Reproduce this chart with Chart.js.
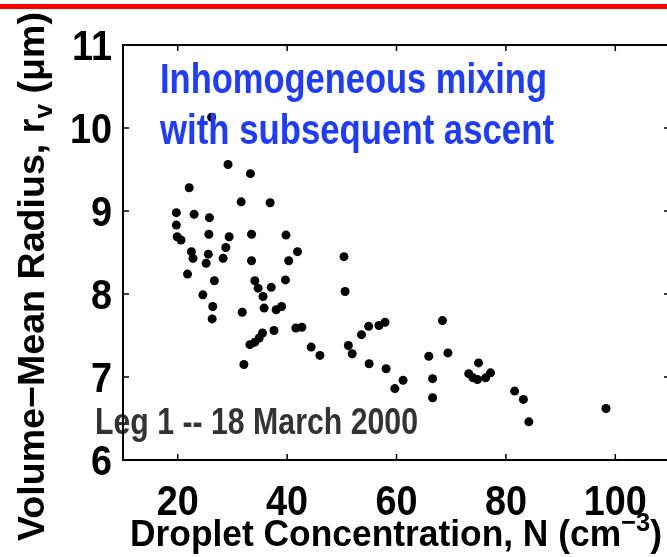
<!DOCTYPE html>
<html><head><meta charset="utf-8">
<script src="https://cdn.jsdelivr.net/npm/chart.js@4/dist/chart.umd.min.js"></script>
<style>
html,body{margin:0;padding:0;overflow:hidden;background:#fff;width:667px;height:557px}
#wrap{position:relative;width:676px;height:557px}
canvas{display:block}
</style></head>
<body><div id="wrap"><canvas id="c" width="676" height="557"></canvas></div>
<script>
// Droplet concentration N (cm^-3)
const concentration = [26.2,29.2,33.3,22.1,31.6,36.9,19.75,23.0,25.8,19.75,33.5,39.8,25.7,29.4,19.9,20.6,28.8,41.9,22.5,25.6,22.8,28.3,33.5,40.3,25.2,21.8,26.7,34.1,39.7,34.7,37.1,24.6,35.6,26.4,35.8,38.0,39.0,31.8,26.3,41.6,42.7,37.6,35.5,34.9,34.1,33.2,32.1,50.4,50.6,44.4,46.0,53.6,54.9,56.8,57.9,51.2,51.9,55.0,58.1,61.2,59.7,66.6,66.6,68.4,65.9,69.4,75.0,73.2,74.0,74.8,76.3,77.2,81.6,83.2,84.2,98.3];
// Volume-mean radius r_v (um)
const radius = [10.13,9.56,9.45,9.28,9.11,9.10,8.98,8.96,8.92,8.83,8.72,8.71,8.72,8.69,8.69,8.65,8.56,8.51,8.51,8.48,8.43,8.43,8.40,8.40,8.37,8.24,8.16,8.16,8.17,8.07,8.08,7.99,7.97,7.85,7.83,7.81,7.85,7.78,7.70,7.59,7.60,7.56,7.53,7.47,7.42,7.39,7.15,8.45,8.03,7.36,7.26,7.51,7.61,7.62,7.66,7.38,7.28,7.16,7.10,6.96,6.86,6.98,6.75,7.68,7.25,7.29,7.17,7.04,6.99,6.97,6.99,7.05,6.83,6.73,6.46,6.62];
const xTicks = [20,40,60,80,100];
const yTicks = [6,7,8,9,10,11];
const xRange = [10,110];
const yRange = [6,11];
const annotationLines = ["Inhomogeneous mixing","with subsequent ascent"];
const legLabel = "Leg 1 -- 18 March 2000";

const FONT = '"Liberation Sans", Arial, Helvetica, sans-serif';
function runsWidth(ctx, runs){
  let w = 0;
  for (const r of runs){ ctx.font = 'bold ' + r.size + 'px ' + FONT; w += ctx.measureText(r.t).width; }
  return w;
}
function drawRuns(ctx, runs, opts){
  const nat = runsWidth(ctx, runs);
  const sx = opts.width ? opts.width / nat : (opts.sx || 1);
  let x0 = 0;
  if (opts.align === 'right') x0 = -nat * sx; else if (opts.align === 'center') x0 = -nat * sx / 2;
  ctx.save();
  ctx.translate(x0, 0); ctx.scale(sx, 1);
  ctx.fillStyle = opts.color || '#000'; ctx.textBaseline = 'alphabetic'; ctx.textAlign = 'left';
  let cx = 0;
  for (const r of runs){
    ctx.font = 'bold ' + r.size + 'px ' + FONT;
    ctx.fillText(r.t, cx, r.dy || 0);
    cx += ctx.measureText(r.t).width;
  }
  ctx.restore();
}

const decor = {
  id: 'decor',
  afterDatasetsDraw(chart){
    const ctx = chart.ctx;
    const xs = chart.scales.x, ys = chart.scales.y;
    const L = xs.getPixelForValue(xRange[0]), R = xs.getPixelForValue(xRange[1]);
    const T = ys.getPixelForValue(yRange[1]), B = ys.getPixelForValue(yRange[0]);
    ctx.save();
    // red band at top
    ctx.fillStyle = '#ff0000';
    ctx.fillRect(0, 4, chart.width, 5);
    // annotations
    ctx.save(); ctx.translate(160, 93);
    drawRuns(ctx, [{t: annotationLines[0], size: 42}], {width: 387, color: '#1e3cff'});
    ctx.restore();
    ctx.save(); ctx.translate(160, 144);
    drawRuns(ctx, [{t: annotationLines[1], size: 42}], {width: 394, color: '#1e3cff'});
    ctx.restore();
    ctx.save(); ctx.translate(95, 434);
    drawRuns(ctx, [{t: legLabel, size: 36}], {width: 323, color: '#333333'});
    ctx.restore();
    // tick labels
    for (const v of xTicks){
      ctx.save(); ctx.translate(xs.getPixelForValue(v), 515);
      drawRuns(ctx, [{t: String(v), size: 42}], {sx: 0.9, align: 'center'});
      ctx.restore();
    }
    for (const v of yTicks){
      ctx.save(); ctx.translate(112, ys.getPixelForValue(v) + 15);
      drawRuns(ctx, [{t: String(v), size: 42}], {sx: 0.9, align: 'right'});
      ctx.restore();
    }
    // axis titles
    ctx.save(); ctx.translate(130, 546);
    drawRuns(ctx, [{t: 'Droplet Concentration, N (cm', size: 36}, {t: '\u22123', size: 26, dy: -15}, {t: ')', size: 36}], {width: 532});
    ctx.restore();
    ctx.save(); ctx.translate(44, 541); ctx.rotate(-Math.PI/2);
    drawRuns(ctx, [{t: 'Volume\u2212Mean Radius, r', size: 37}, {t: 'v', size: 26, dy: 8}, {t: ' (\u03bcm)', size: 37}], {width: 529});
    ctx.restore();
    // frame
    ctx.strokeStyle = '#000'; ctx.lineWidth = 2;
    ctx.strokeRect(L, T, R - L, B - T);
    // ticks (inward)
    ctx.lineWidth = 1.5;
    ctx.beginPath();
    for (const v of xTicks){
      const p = xs.getPixelForValue(v);
      ctx.moveTo(p, B); ctx.lineTo(p, B - 6);
      ctx.moveTo(p, T); ctx.lineTo(p, T + 6);
    }
    for (const v of yTicks){
      const p = ys.getPixelForValue(v);
      ctx.moveTo(L, p); ctx.lineTo(L + 6, p);
      ctx.moveTo(R, p); ctx.lineTo(R - 6, p);
    }
    ctx.stroke();
    ctx.restore();
  }
};

const points = concentration.map((x, i) => ({x: x, y: radius[i]}));
new Chart(document.getElementById('c'), {
  type: 'scatter',
  data: { datasets: [{ data: points, backgroundColor: '#000', borderWidth: 0, pointRadius: 4.5, pointHoverRadius: 4.5 }] },
  options: {
    responsive: false, animation: false, devicePixelRatio: 1,
    layout: { padding: { left: 123, top: 45, right: 6, bottom: 97 } },
    plugins: { legend: { display: false }, tooltip: { enabled: false } },
    scales: {
      x: { type: 'linear', min: xRange[0], max: xRange[1], display: false },
      y: { type: 'linear', min: yRange[0], max: yRange[1], display: false }
    }
  },
  plugins: [decor]
});
</script>
</body></html>
